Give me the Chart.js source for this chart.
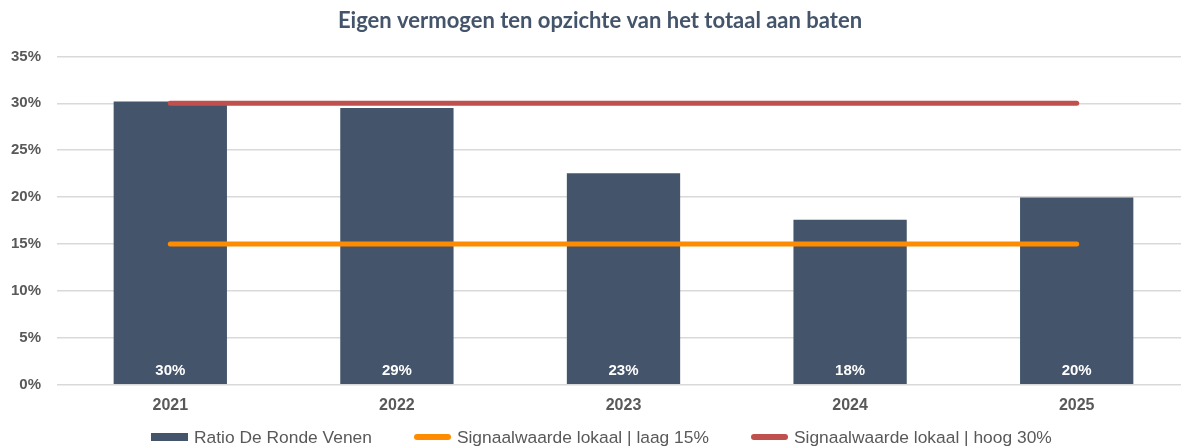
<!DOCTYPE html>
<html>
<head>
<meta charset="utf-8">
<script src="https://cdn.jsdelivr.net/npm/chart.js@4.4.1/dist/chart.umd.min.js"></script>
<style>
    html, body { margin: 0; padding: 0; background: #fff; overflow: hidden; }
    #wrap { position: relative; width: 1200px; height: 446px; }
    #chartBox { position: absolute; left: 0; top: 0; width: 1200px; height: 430px; }
    #legend {
        position: absolute; left: 151px; top: 428px;
        display: flex; gap: 42px; align-items: center;
        font: 17.4px "Liberation Sans", Arial, sans-serif; color: #595959;
        white-space: nowrap; line-height: 18px;
    }
    .item { display: flex; align-items: center; gap: 6px; }
    .swatch { width: 37px; height: 8px; }
    .line { height: 6px; border-radius: 3px; }
</style>
</head>
<body>
<div id="wrap">
    <div id="chartBox"><canvas id="ratioChart"></canvas></div>
    <div id="legend"></div>
</div>
<script>
const years = ['2021', '2022', '2023', '2024', '2025'];
const ratioValues = [30.2, 29.5, 22.55, 17.6, 19.95];
const ratioLabels = ['30%', '29%', '23%', '18%', '20%'];
const signaalLaag = [15, 15, 15, 15, 15];
const signaalHoog = [30, 30, 30, 30, 30];
const yTicks = [0, 5, 10, 15, 20, 25, 30, 35];

const legendNames = ['Ratio De Ronde Venen', 'Signaalwaarde lokaal | laag 15%', 'Signaalwaarde lokaal | hoog 30%'];
const barColor = '#44546a';
const laagColor = '#ff8c00';
const hoogColor = '#c0504d';
const axisGrey = '#595959';

// white value labels at the bottom of each bar
const barLabels = {
    id: 'barLabels',
    afterDatasetsDraw(chart) {
        const ctx = chart.ctx;
        const meta = chart.getDatasetMeta(2);
        const zeroY = chart.scales.y.getPixelForValue(0);
        ctx.save();
        ctx.font = 'bold 15px "Liberation Sans", Arial, sans-serif';
        ctx.fillStyle = '#ffffff';
        ctx.textAlign = 'center';
        ctx.textBaseline = 'middle';
        meta.data.forEach((bar, i) => {
            ctx.fillText(ratioLabels[i], bar.x, zeroY - 14);
        });
        ctx.restore();
    }
};

new Chart(document.getElementById('ratioChart'), {
    data: {
        labels: years,
        datasets: [{
            type: 'line',
            label: legendNames[2],
            data: signaalHoog,
            borderColor: hoogColor,
            borderWidth: 5,
            borderCapStyle: 'round',
            pointRadius: 0,
            fill: false,
            order: 1
        }, {
            type: 'line',
            label: legendNames[1],
            data: signaalLaag,
            borderColor: laagColor,
            borderWidth: 5,
            borderCapStyle: 'round',
            pointRadius: 0,
            fill: false,
            order: 2
        }, {
            type: 'bar',
            label: legendNames[0],
            data: ratioValues,
            backgroundColor: barColor,
            barPercentage: 0.5,
            categoryPercentage: 1,
            order: 3
        }]
    },
    options: {
        responsive: true,
        maintainAspectRatio: false,
        animation: false,
        layout: {
            padding: { left: 10, right: 10, bottom: 4 }
        },
        scales: {
            x: {
                grid: { display: false, drawTicks: false },
                border: { display: false },
                ticks: {
                    color: axisGrey,
                    padding: 11,
                    font: { family: '"Liberation Sans", Arial, sans-serif', size: 16, weight: 'bold' }
                }
            },
            y: {
                min: 0,
                max: 35,
                afterBuildTicks: (scale) => {
                    scale.ticks = yTicks.map(v => ({ value: v }));
                },
                afterFit: (scale) => {
                    scale.width = 47;
                },
                grid: { color: '#d9d9d9', lineWidth: 1.5, drawTicks: false },
                border: { display: false },
                ticks: {
                    color: axisGrey,
                    padding: 16,
                    font: { family: '"Liberation Sans", Arial, sans-serif', size: 15, weight: 'bold' },
                    callback: (value) => value + '%'
                }
            }
        },
        plugins: {
            legend: { display: false },
            tooltip: { enabled: false },
            title: {
                display: true,
                text: 'Eigen vermogen ten opzichte van het totaal aan baten',
                color: '#44546a',
                font: { family: 'Lato, "Open Sans", sans-serif', size: 22, weight: 'bold' },
                padding: { top: 8, bottom: 22 }
            }
        }
    },
    plugins: [barLabels]
});

// simple html legend
const legendEl = document.getElementById('legend');
const swatches = [
    { color: barColor, cls: 'swatch' },
    { color: laagColor, cls: 'swatch line' },
    { color: hoogColor, cls: 'swatch line' }
];
legendNames.forEach((name, i) => {
    const item = document.createElement('div');
    item.className = 'item';
    const sw = document.createElement('span');
    sw.className = swatches[i].cls;
    sw.style.background = swatches[i].color;
    const txt = document.createElement('span');
    txt.textContent = name;
    item.appendChild(sw);
    item.appendChild(txt);
    legendEl.appendChild(item);
});
</script>
</body>
</html>
